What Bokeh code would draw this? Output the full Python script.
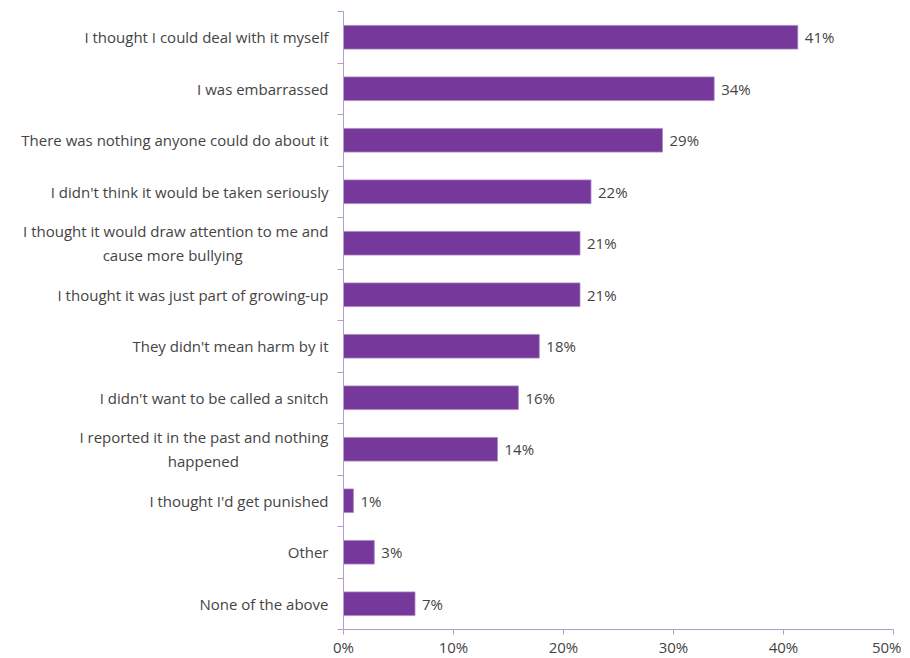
from bokeh.plotting import figure
from bokeh.models import LinearAxis, FixedTicker, Range1d, ColumnDataSource
from bokeh.core.properties import value
from bokeh.embed import file_html
from bokeh.resources import INLINE

categories = [
    "I thought I could deal with it myself",
    "I was embarrassed",
    "There was nothing anyone could do about it",
    "I didn't think it would be taken seriously",
    "I thought it would draw attention to me and\ncause more bullying",
    "I thought it was just part of growing-up",
    "They didn't mean harm by it",
    "I didn't want to be called a snitch",
    "I reported it in the past and nothing\nhappened",
    "I thought I'd get punished",
    "Other",
    "None of the above",
]
values = [41.3, 33.7, 29.0, 22.5, 21.5, 21.5, 17.8, 15.9, 14.0, 0.9, 2.8, 6.5]
value_labels = ["41%", "34%", "29%", "22%", "21%", "21%", "18%", "16%", "14%", "1%", "3%", "7%"]
x_ticks = [0, 10, 20, 30, 40, 50]
x_tick_labels = ["0%", "10%", "20%", "30%", "40%", "50%"]

FONT = "Open Sans"
FS = 15
TEXT = "#444444"
AXIS = "#b49ccb"
BAR = "#76389a"

# approximate Open Sans advance widths (em) to centre multi-line labels
_W = dict(a=.556, b=.613, c=.48, d=.613, e=.561, f=.336, g=.546, h=.613, i=.258,
          j=.258, k=.53, l=.258, m=.932, n=.613, o=.6, p=.613, q=.613, r=.408,
          s=.476, t=.352, u=.613, v=.5, w=.777, x=.525, y=.5, z=.469)
_W[" "] = .26
NBSP = "\u00a0"


def _width(s):
    return sum(_W.get(ch, .6 if ch.isupper() else .3) for ch in s)


def centre_lines(label):
    lines = label.split("\n")
    if len(lines) == 1:
        return label
    wmax = max(_width(l) for l in lines)
    out = []
    for l in lines:
        pad = round((wmax - _width(l)) / 2 / .26)
        out.append(l + NBSP * pad)
    return "\n".join(out)


n = len(categories)
ypos = [n - 0.5 - i for i in range(n)]

src = ColumnDataSource(dict(y=ypos, v=values, lab=value_labels))

p = figure(
    frame_width=550, frame_height=618,
    min_border_left=343, min_border_right=8, min_border_top=11, min_border_bottom=10,
    x_range=Range1d(0, 50), y_range=Range1d(0, n),
    output_backend="svg", toolbar_location=None,
)
p.outline_line_color = None
p.grid.grid_line_color = None

p.hbar(y="y", left=0, right="v", height=0.46, source=src,
       fill_color=BAR, line_color="#a88bc0", line_width=0.8)

p.text(x="v", y="y", text="lab", source=src, x_offset=7,
       text_align="left", text_baseline="middle",
       text_font=value(FONT), text_font_size=f"{FS}px", text_color=TEXT)

# x axis
xa = p.xaxis[0]
xa.ticker = FixedTicker(ticks=x_ticks)
xa.major_label_overrides = {t: l for t, l in zip(x_ticks, x_tick_labels)}
xa.axis_line_color = AXIS
xa.major_tick_line_color = AXIS
xa.major_tick_in = 0
xa.major_tick_out = 5
xa.minor_tick_line_color = None
xa.major_label_text_font = FONT
xa.major_label_text_font_size = f"{FS}px"
xa.major_label_text_color = TEXT
xa.major_label_standoff = 2

# y axis: line + tick marks at category boundaries
ya = p.yaxis[0]
ya.ticker = FixedTicker(ticks=list(range(n + 1)))
ya.major_label_overrides = {i: "" for i in range(n + 1)}
ya.major_label_text_font_size = "0px"
ya.major_label_standoff = 0
ya.axis_line_color = AXIS
ya.major_tick_line_color = AXIS
ya.major_tick_in = 0
ya.major_tick_out = 6
ya.minor_tick_line_color = None

# y labels axis
la = LinearAxis(ticker=FixedTicker(ticks=ypos),
                major_label_overrides={y: centre_lines(c) for y, c in zip(ypos, categories)})
la.axis_line_color = None
la.major_tick_line_color = None
la.minor_tick_line_color = None
la.major_label_standoff = 3
la.major_label_text_font = FONT
la.major_label_text_font_size = f"{FS}px"
la.major_label_text_color = TEXT
p.add_layout(la, "left")

open("out.html", "w").write(file_html(p, INLINE))
